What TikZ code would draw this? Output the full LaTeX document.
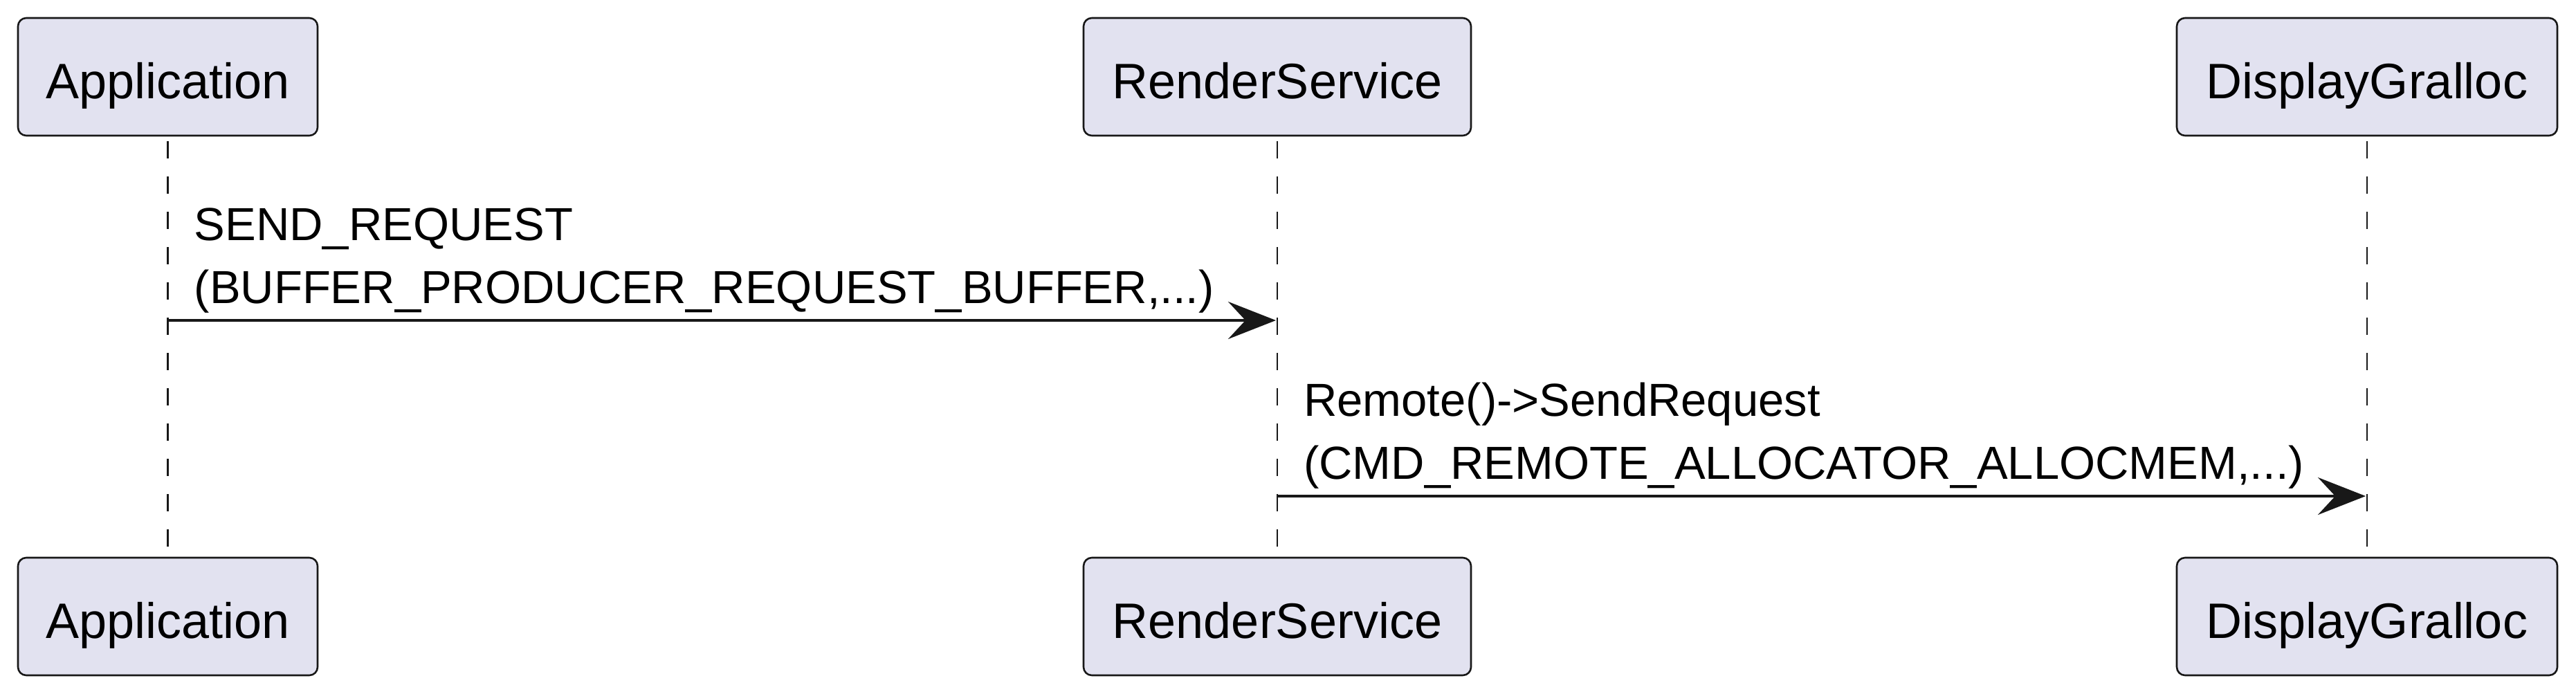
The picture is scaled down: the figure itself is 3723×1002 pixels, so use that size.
\documentclass[tikz,border=0pt]{standalone}
\usepackage{fontspec}
\setmainfont{Liberation Sans}
\usetikzlibrary{arrows.meta}
\definecolor{pfill}{HTML}{E2E2F0}
\definecolor{pline}{HTML}{181818}
\tikzset{
  part/.style={draw=pline, fill=pfill, line width=2.6pt, rounded corners=12pt,
    inner sep=0pt, minimum height=170pt, text height=63pt, text depth=0pt,
    font=\fontsize{72}{86}\selectfont},
  life/.style={draw=pline, line width=2.6pt, dash pattern=on 25pt off 26pt, dash phase=44pt},
  msg/.style={draw=pline, line width=4.5pt, -{Stealth[length=69pt, width=54pt, inset=25pt]}},
  lbl/.style={anchor=base west, inner sep=0pt, font=\fontsize{67}{80}\selectfont}
}
\begin{document}
\begin{tikzpicture}[x=1pt, y=-1pt]
\useasboundingbox (0,0) rectangle (3723,1002);
% participants (top)
\node[part, minimum width=433pt] (a)  at (242.5,111) {Application};
\node[part, minimum width=560pt] (r)  at (1846,111) {RenderService};
\node[part, minimum width=550pt] (d)  at (3421,111) {DisplayGralloc};
% participants (bottom)
\node[part, minimum width=433pt] (ab) at (242.5,891) {Application};
\node[part, minimum width=560pt] (rb) at (1846,891) {RenderService};
\node[part, minimum width=550pt] (db) at (3421,891) {DisplayGralloc};
% lifelines
\draw[life] (a.south) -- (ab.north);
\draw[life] (r.south) -- (rb.north);
\draw[life] (d.south) -- (db.north);
% message 1
\coordinate (y1) at (0,463);
\coordinate (y2) at (0,717);
\draw[msg] (a.south |- y1) -- ([xshift=-2pt]r.south |- y1);
\node[lbl] (m1a) at ([xshift=38pt]a.south |- 0,347) {SEND\_REQUEST};
\node[lbl] (m1b) at ([xshift=38pt]a.south |- 0,438) {(BUFFER\_PRODUCER\_REQUEST\_BUFFER,...)};
% message 2
\draw[msg] (r.south |- y2) -- ([xshift=-2pt]d.south |- y2);
\node[lbl] (m2a) at ([xshift=38pt]r.south |- 0,601) {Remote()->SendRequest};
\node[lbl] (m2b) at ([xshift=38pt]r.south |- 0,692) {(CMD\_REMOTE\_ALLOCATOR\_ALLOCMEM,...)};
\end{tikzpicture}
\end{document}
